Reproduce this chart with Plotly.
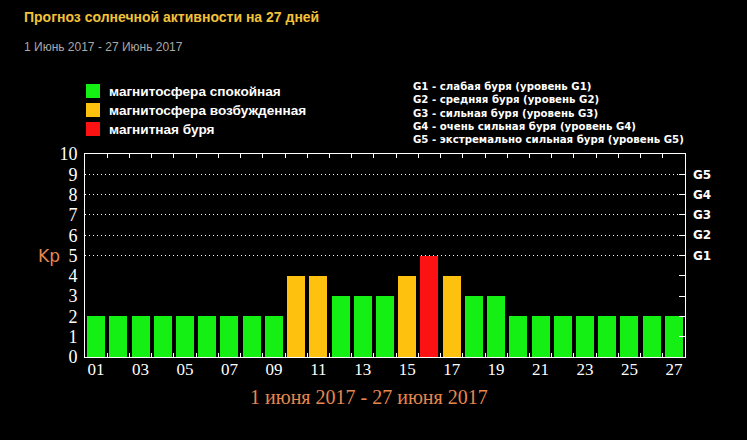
import plotly.graph_objects as go

# ---- data ----
days = list(range(1, 28))
kp_values = [2, 2, 2, 2, 2, 2, 2, 2, 2, 4, 4, 3, 3, 3, 4, 5, 4, 3, 3, 2, 2, 2, 2, 2, 2, 2, 2]
day_tick_vals = [1, 3, 5, 7, 9, 11, 13, 15, 17, 19, 21, 23, 25, 27]
day_tick_text = ["01", "03", "05", "07", "09", "11", "13", "15", "17", "19", "21", "23", "25", "27"]
day_boundaries = [d - 0.5 for d in days] + [days[-1] + 0.5]
kp_ticks = list(range(0, 11))
right_ticks = list(range(1, 10))
g_levels = [5, 6, 7, 8, 9]
g_labels = ["G1", "G2", "G3", "G4", "G5"]
legend_left = ["магнитосфера спокойная", "магнитосфера возбужденная", "магнитная буря"]
legend_right = [
    "G1 - слабая буря (уровень G1)",
    "G2 - средняя буря (уровень G2)",
    "G3 - сильная буря (уровень G3)",
    "G4 - очень сильная буря (уровень G4)",
    "G5 - экстремально сильная буря (уровень G5)",
]
title_text = "Прогноз солнечной активности на 27 дней"
subtitle_text = "1 Июнь 2017 - 27 Июнь 2017"
xlabel_text = "1 июня 2017 - 27 июня 2017"

GREEN = "#14f014"
ORANGE = "#fdc10e"
RED = "#fc1212"
status_colors = [GREEN, ORANGE, RED]


def color_for(v):
    if v >= 5:
        return RED
    if v >= 4:
        return ORANGE
    return GREEN


W, H = 747, 440
L, R, T, B = 85, 685, 154, 357


def px(x):
    return (x - L) / (R - L)


def py(y):
    return (B - y) / (B - T)


fig = go.Figure()
fig.add_trace(go.Bar(
    x=days, y=kp_values, width=0.81,
    marker=dict(color=[color_for(v) for v in kp_values], line=dict(width=0)),
    showlegend=False, hoverinfo="x+y",
))
# invisible helper traces to activate overlay axes
fig.add_trace(go.Scatter(x=[days[0]], y=[0], xaxis="x2", yaxis="y2", mode="markers",
                         marker=dict(opacity=0), showlegend=False, hoverinfo="skip"))
fig.add_trace(go.Scatter(x=[days[0]], y=[0], yaxis="y3", mode="markers",
                         marker=dict(opacity=0), showlegend=False, hoverinfo="skip"))

serif = "Liberation Serif"
sans = "Liberation Sans"
xr = [0.5, 27.5]

fig.update_layout(
    width=W, height=H,
    margin=dict(l=L, r=W - R, t=T, b=H - B),
    paper_bgcolor="black", plot_bgcolor="black",
    bargap=0,
    # boundary ticks (bottom + mirrored top)
    xaxis=dict(
        range=xr, tickvals=day_boundaries, showticklabels=False,
        ticks="inside", ticklen=4, tickcolor="white", tickwidth=1,
        showgrid=False, zeroline=False,
        showline=True, linecolor="white", linewidth=1, mirror="ticks",
        fixedrange=True,
    ),
    # day labels
    xaxis2=dict(
        overlaying="x", side="bottom", range=xr,
        tickvals=day_tick_vals, ticktext=day_tick_text, ticks="",
        showgrid=False, zeroline=False, showline=False,
        tickfont=dict(family=serif, size=17, color="white"),
        fixedrange=True,
    ),
    yaxis=dict(
        range=[0, 10], tickvals=kp_ticks, ticks="", showgrid=False, zeroline=False,
        showline=True, linecolor="white", linewidth=1, mirror=True,
        tickfont=dict(family=serif, size=18, color="white"),
        ticklabelstandoff=3,
        fixedrange=True,
    ),
    yaxis2=dict(
        overlaying="y", side="right", range=[0, 10],
        tickvals=right_ticks,
        ticktext=["" for _ in right_ticks[:4]] + g_labels,
        ticks="inside", ticklen=6, tickcolor="white", tickwidth=1,
        showgrid=False, zeroline=False, showline=False,
        tickfont=dict(family="DejaVu Sans", size=12, color="white", weight="bold"),
        ticklabelstandoff=7,
        fixedrange=True,
    ),
    yaxis3=dict(
        overlaying="y", side="left", range=[0, 10],
        tickvals=g_levels, showticklabels=False, ticks="",
        showgrid=True, gridcolor="white", griddash="1px,3px", gridwidth=1,
        zeroline=False, showline=False,
        fixedrange=True,
    ),
)

ann = []
ann.append(dict(text=title_text, x=px(22), y=py(17), xanchor="left", yanchor="middle",
                font=dict(family=sans, size=14, color="#f2c23a", weight="bold")))
ann.append(dict(text=subtitle_text, x=px(22), y=py(47), xanchor="left", yanchor="middle",
                font=dict(family=sans, size=12, color="#a8a8a8")))
legend_y = [91, 110, 129]
shapes = []
for lbl, c, yy in zip(legend_left, status_colors, legend_y):
    shapes.append(dict(type="rect", xref="paper", yref="paper",
                       x0=px(86), x1=px(100), y0=py(yy + 7), y1=py(yy - 7),
                       fillcolor=c, line=dict(width=0)))
    ann.append(dict(text=lbl, x=px(107), y=py(yy), xanchor="left", yanchor="middle",
                    font=dict(family=sans, size=13.6, color="white", weight="bold")))
# G-scale explanation block: one text block
ann.append(dict(text="<br>".join(legend_right), x=px(411), y=py(113), xanchor="left",
                yanchor="middle", align="left",
                font=dict(family="DejaVu Sans", size=10.2, color="white", weight="bold")))
ann.append(dict(text="Kp", x=px(49), y=5, yref="y", xanchor="center", yanchor="middle",
                font=dict(family="DejaVu Sans", size=17, color="#e5884f")))
ann.append(dict(text=xlabel_text, x=px(369), y=py(397), xanchor="center", yanchor="middle",
                font=dict(family=serif, size=20, color="#e5884f")))
for a in ann:
    a.setdefault("xref", "paper")
    a.setdefault("yref", "paper")
    a["showarrow"] = False
fig.update_layout(annotations=ann, shapes=shapes)

fig.write_html("out.html")
